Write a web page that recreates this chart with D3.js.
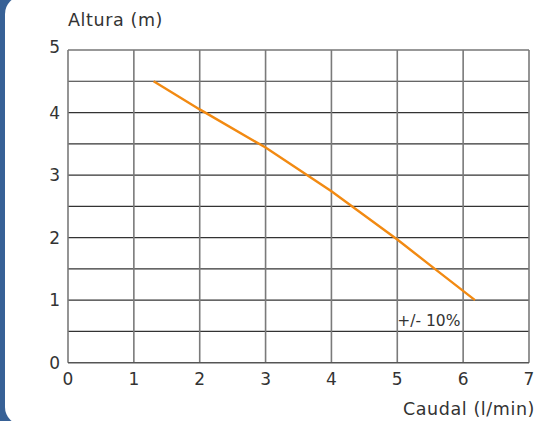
<!DOCTYPE html>
<html><head><meta charset="utf-8">
<script src="https://cdn.jsdelivr.net/npm/d3@7"></script>
<style>
html,body{margin:0;padding:0;background:#fff;}
svg{display:block;}
text{font-family:"DejaVu Sans",sans-serif;fill:#333;}
</style></head><body>
<script>
const caudal = [1.3, 2, 3, 4, 5, 5.57, 6.18];
const altura = [4.5, 4.05, 3.44, 2.74, 1.97, 1.5, 1.0];
const xTicks = [0, 1, 2, 3, 4, 5, 6, 7];
const yTicks = [0, 1, 2, 3, 4, 5];
const yGrid = [0.5, 1, 1.5, 2, 2.5, 3, 3.5, 4, 4.5, 5];
const yTitle = "Altura (m)";
const xTitle = "Caudal (l/min)";
const note = {x: 5, y: 0.59, text: "+/- 10%"};

const W = 538, H = 421;
const m = {left: 68, right: 9, top: 50, bottom: 58.3};
const svg = d3.select("body").append("svg").attr("width", W).attr("height", H);

// frame
svg.append("rect").attr("x", 0).attr("y", 0).attr("width", 40).attr("height", H).attr("fill", "#376196");
svg.append("rect").attr("x", 5).attr("y", -4).attr("width", W).attr("height", H + 8)
  .attr("rx", 18).attr("ry", 18).attr("fill", "#fff");

const x = d3.scaleLinear().domain([0, 7]).range([m.left, W - m.right]);
const y = d3.scaleLinear().domain([0, 5]).range([H - m.bottom, m.top]);

const g = svg.append("g");
g.selectAll(".hg").data(yGrid).join("line")
  .attr("x1", x(0)).attr("x2", x(7))
  .attr("y1", d => y(d)).attr("y2", d => y(d))
  .attr("stroke", "#333").attr("stroke-width", 1.2);
g.selectAll(".vg").data(xTicks).join("line")
  .attr("x1", d => x(d)).attr("x2", d => x(d))
  .attr("y1", y(0)).attr("y2", y(5))
  .attr("stroke", "#7a7a7a").attr("stroke-width", 1.6);
g.append("line").attr("x1", x(0)).attr("x2", x(7)).attr("y1", y(0)).attr("y2", y(0))
  .attr("stroke", "#555").attr("stroke-width", 1.6);

svg.selectAll(".yl").data(yTicks).join("text")
  .attr("x", x(0) - 8).attr("y", d => y(d) + (d === 5 ? 2.5 : 6))
  .attr("text-anchor", "end").attr("font-size", 17).text(d => d);
svg.selectAll(".xl").data(xTicks).join("text")
  .attr("x", d => x(d)).attr("y", y(0) + 22)
  .attr("text-anchor", "middle").attr("font-size", 17).text(d => d);

svg.append("text").attr("x", x(0)).attr("y", 26).attr("font-size", 17.5)
  .attr("letter-spacing", 0.6).text(yTitle);
svg.append("text").attr("x", 535).attr("y", 415).attr("text-anchor", "end").attr("font-size", 17.5)
  .attr("letter-spacing", 0.6).text(xTitle);

const pts = caudal.map((c, i) => [c, altura[i]]);
svg.append("path").datum(pts)
  .attr("d", d3.line().x(d => x(d[0])).y(d => y(d[1])))
  .attr("fill", "none").attr("stroke", "#f28a12").attr("stroke-width", 2.4);

svg.append("text").attr("x", x(note.x)).attr("y", y(note.y)).attr("font-size", 15.5).text(note.text);
</script>
</body></html>
